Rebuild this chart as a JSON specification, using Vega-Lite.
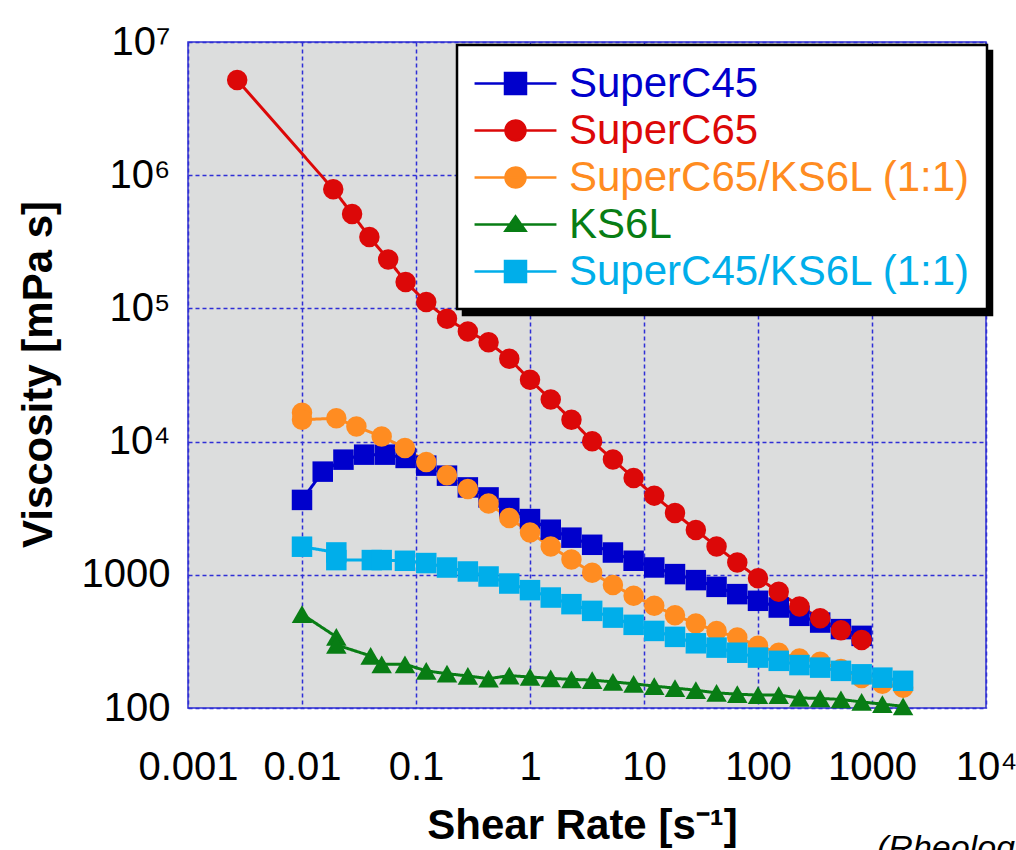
{
  "$schema": "https://vega.github.io/schema/vega-lite/v6.json",
  "width": 798,
  "height": 666,
  "autosize": {"type": "none"},
  "padding": {"left": 188, "top": 42, "right": 30, "bottom": 142},
  "background": "white",
  "title": {
    "text": "(Rheology)",
    "orient": "bottom",
    "anchor": "end",
    "frame": "group",
    "align": "left",
    "baseline": "top",
    "dx": -109,
    "dy": -14,
    "offset": 0,
    "font": "Liberation Sans",
    "fontSize": 34,
    "fontStyle": "italic",
    "fontWeight": "normal",
    "color": "black"
  },
  "config": {
    "view": {"fill": "#dcdddd", "stroke": "#3030d0", "strokeWidth": 1.5},
    "font": "Liberation Sans",
    "legend": {"strokeWidth": 2.5}
  },
  "data": {
    "values": [
      {"series": "SuperC45", "rate": 0.01, "visc": 3650},
      {"series": "SuperC45", "rate": 0.0152, "visc": 5950},
      {"series": "SuperC45", "rate": 0.0231, "visc": 7320},
      {"series": "SuperC45", "rate": 0.0351, "visc": 7980},
      {"series": "SuperC45", "rate": 0.0534, "visc": 7980},
      {"series": "SuperC45", "rate": 0.0811, "visc": 7540},
      {"series": "SuperC45", "rate": 0.123, "visc": 6600},
      {"series": "SuperC45", "rate": 0.187, "visc": 5550},
      {"series": "SuperC45", "rate": 0.285, "visc": 4530},
      {"series": "SuperC45", "rate": 0.433, "visc": 3810},
      {"series": "SuperC45", "rate": 0.658, "visc": 3170},
      {"series": "SuperC45", "rate": 1.0, "visc": 2620},
      {"series": "SuperC45", "rate": 1.52, "visc": 2180},
      {"series": "SuperC45", "rate": 2.31, "visc": 1900},
      {"series": "SuperC45", "rate": 3.51, "visc": 1680},
      {"series": "SuperC45", "rate": 5.34, "visc": 1470},
      {"series": "SuperC45", "rate": 8.11, "visc": 1275},
      {"series": "SuperC45", "rate": 12.3, "visc": 1135},
      {"series": "SuperC45", "rate": 18.7, "visc": 1012},
      {"series": "SuperC45", "rate": 28.5, "visc": 912},
      {"series": "SuperC45", "rate": 43.3, "visc": 812},
      {"series": "SuperC45", "rate": 65.8, "visc": 716},
      {"series": "SuperC45", "rate": 100, "visc": 638},
      {"series": "SuperC45", "rate": 152, "visc": 568},
      {"series": "SuperC45", "rate": 231, "visc": 492},
      {"series": "SuperC45", "rate": 351, "visc": 438},
      {"series": "SuperC45", "rate": 534, "visc": 391},
      {"series": "SuperC45", "rate": 811, "visc": 348},
      {"series": "SuperC65", "rate": 0.0027, "visc": 5180000},
      {"series": "SuperC65", "rate": 0.0188, "visc": 785000},
      {"series": "SuperC65", "rate": 0.0275, "visc": 512000},
      {"series": "SuperC65", "rate": 0.039, "visc": 344000},
      {"series": "SuperC65", "rate": 0.057, "visc": 233000},
      {"series": "SuperC65", "rate": 0.0811, "visc": 158000},
      {"series": "SuperC65", "rate": 0.123, "visc": 111500},
      {"series": "SuperC65", "rate": 0.187, "visc": 83700},
      {"series": "SuperC65", "rate": 0.285, "visc": 67200},
      {"series": "SuperC65", "rate": 0.433, "visc": 55800},
      {"series": "SuperC65", "rate": 0.658, "visc": 41900},
      {"series": "SuperC65", "rate": 1.0, "visc": 29100},
      {"series": "SuperC65", "rate": 1.52, "visc": 20700},
      {"series": "SuperC65", "rate": 2.31, "visc": 14600},
      {"series": "SuperC65", "rate": 3.51, "visc": 10050},
      {"series": "SuperC65", "rate": 5.34, "visc": 7330},
      {"series": "SuperC65", "rate": 8.11, "visc": 5330},
      {"series": "SuperC65", "rate": 12.3, "visc": 3930},
      {"series": "SuperC65", "rate": 18.7, "visc": 2910},
      {"series": "SuperC65", "rate": 28.5, "visc": 2170},
      {"series": "SuperC65", "rate": 43.3, "visc": 1630},
      {"series": "SuperC65", "rate": 65.8, "visc": 1237},
      {"series": "SuperC65", "rate": 100, "visc": 944},
      {"series": "SuperC65", "rate": 152, "visc": 745},
      {"series": "SuperC65", "rate": 231, "visc": 578},
      {"series": "SuperC65", "rate": 351, "visc": 472},
      {"series": "SuperC65", "rate": 534, "visc": 384},
      {"series": "SuperC65", "rate": 811, "visc": 324},
      {"series": "SuperC65/KS6L (1:1)", "rate": 0.01, "visc": 16500},
      {"series": "SuperC65/KS6L (1:1)", "rate": 0.01, "visc": 14600},
      {"series": "SuperC65/KS6L (1:1)", "rate": 0.02, "visc": 14970},
      {"series": "SuperC65/KS6L (1:1)", "rate": 0.03, "visc": 12970},
      {"series": "SuperC65/KS6L (1:1)", "rate": 0.05, "visc": 10900},
      {"series": "SuperC65/KS6L (1:1)", "rate": 0.08, "visc": 8970},
      {"series": "SuperC65/KS6L (1:1)", "rate": 0.123, "visc": 7040},
      {"series": "SuperC65/KS6L (1:1)", "rate": 0.187, "visc": 5580},
      {"series": "SuperC65/KS6L (1:1)", "rate": 0.285, "visc": 4410},
      {"series": "SuperC65/KS6L (1:1)", "rate": 0.433, "visc": 3430},
      {"series": "SuperC65/KS6L (1:1)", "rate": 0.658, "visc": 2670},
      {"series": "SuperC65/KS6L (1:1)", "rate": 1.0, "visc": 2080},
      {"series": "SuperC65/KS6L (1:1)", "rate": 1.52, "visc": 1630},
      {"series": "SuperC65/KS6L (1:1)", "rate": 2.31, "visc": 1300},
      {"series": "SuperC65/KS6L (1:1)", "rate": 3.51, "visc": 1035},
      {"series": "SuperC65/KS6L (1:1)", "rate": 5.34, "visc": 837},
      {"series": "SuperC65/KS6L (1:1)", "rate": 8.11, "visc": 695},
      {"series": "SuperC65/KS6L (1:1)", "rate": 12.3, "visc": 585},
      {"series": "SuperC65/KS6L (1:1)", "rate": 18.7, "visc": 498},
      {"series": "SuperC65/KS6L (1:1)", "rate": 28.5, "visc": 430},
      {"series": "SuperC65/KS6L (1:1)", "rate": 43.3, "visc": 379},
      {"series": "SuperC65/KS6L (1:1)", "rate": 65.8, "visc": 338},
      {"series": "SuperC65/KS6L (1:1)", "rate": 100, "visc": 293},
      {"series": "SuperC65/KS6L (1:1)", "rate": 152, "visc": 260},
      {"series": "SuperC65/KS6L (1:1)", "rate": 231, "visc": 235},
      {"series": "SuperC65/KS6L (1:1)", "rate": 351, "visc": 222},
      {"series": "SuperC65/KS6L (1:1)", "rate": 534, "visc": 196},
      {"series": "SuperC65/KS6L (1:1)", "rate": 811, "visc": 168},
      {"series": "SuperC65/KS6L (1:1)", "rate": 1233, "visc": 152},
      {"series": "SuperC65/KS6L (1:1)", "rate": 1874, "visc": 142},
      {"series": "KS6L", "rate": 0.01, "visc": 506},
      {"series": "KS6L", "rate": 0.02, "visc": 342},
      {"series": "KS6L", "rate": 0.02, "visc": 298},
      {"series": "KS6L", "rate": 0.04, "visc": 246},
      {"series": "KS6L", "rate": 0.05, "visc": 213},
      {"series": "KS6L", "rate": 0.08, "visc": 213},
      {"series": "KS6L", "rate": 0.123, "visc": 190},
      {"series": "KS6L", "rate": 0.187, "visc": 181},
      {"series": "KS6L", "rate": 0.285, "visc": 174},
      {"series": "KS6L", "rate": 0.433, "visc": 166},
      {"series": "KS6L", "rate": 0.658, "visc": 175},
      {"series": "KS6L", "rate": 1.0, "visc": 171},
      {"series": "KS6L", "rate": 1.52, "visc": 167},
      {"series": "KS6L", "rate": 2.31, "visc": 164},
      {"series": "KS6L", "rate": 3.51, "visc": 162},
      {"series": "KS6L", "rate": 5.34, "visc": 157},
      {"series": "KS6L", "rate": 8.11, "visc": 152},
      {"series": "KS6L", "rate": 12.3, "visc": 146},
      {"series": "KS6L", "rate": 18.7, "visc": 141},
      {"series": "KS6L", "rate": 28.5, "visc": 136},
      {"series": "KS6L", "rate": 43.3, "visc": 130},
      {"series": "KS6L", "rate": 65.8, "visc": 127},
      {"series": "KS6L", "rate": 100, "visc": 125},
      {"series": "KS6L", "rate": 152, "visc": 125},
      {"series": "KS6L", "rate": 231, "visc": 119},
      {"series": "KS6L", "rate": 351, "visc": 118},
      {"series": "KS6L", "rate": 534, "visc": 116},
      {"series": "KS6L", "rate": 811, "visc": 111},
      {"series": "KS6L", "rate": 1233, "visc": 107},
      {"series": "KS6L", "rate": 1874, "visc": 103},
      {"series": "SuperC45/KS6L (1:1)", "rate": 0.01, "visc": 1625},
      {"series": "SuperC45/KS6L (1:1)", "rate": 0.02, "visc": 1472},
      {"series": "SuperC45/KS6L (1:1)", "rate": 0.02, "visc": 1289},
      {"series": "SuperC45/KS6L (1:1)", "rate": 0.041, "visc": 1290},
      {"series": "SuperC45/KS6L (1:1)", "rate": 0.05, "visc": 1290},
      {"series": "SuperC45/KS6L (1:1)", "rate": 0.08, "visc": 1274},
      {"series": "SuperC45/KS6L (1:1)", "rate": 0.123, "visc": 1225},
      {"series": "SuperC45/KS6L (1:1)", "rate": 0.187, "visc": 1134},
      {"series": "SuperC45/KS6L (1:1)", "rate": 0.285, "visc": 1059},
      {"series": "SuperC45/KS6L (1:1)", "rate": 0.433, "visc": 971},
      {"series": "SuperC45/KS6L (1:1)", "rate": 0.658, "visc": 860},
      {"series": "SuperC45/KS6L (1:1)", "rate": 1.0, "visc": 767},
      {"series": "SuperC45/KS6L (1:1)", "rate": 1.52, "visc": 675},
      {"series": "SuperC45/KS6L (1:1)", "rate": 2.31, "visc": 602},
      {"series": "SuperC45/KS6L (1:1)", "rate": 3.51, "visc": 536},
      {"series": "SuperC45/KS6L (1:1)", "rate": 5.34, "visc": 477},
      {"series": "SuperC45/KS6L (1:1)", "rate": 8.11, "visc": 421},
      {"series": "SuperC45/KS6L (1:1)", "rate": 12.3, "visc": 379},
      {"series": "SuperC45/KS6L (1:1)", "rate": 18.7, "visc": 342},
      {"series": "SuperC45/KS6L (1:1)", "rate": 28.5, "visc": 306},
      {"series": "SuperC45/KS6L (1:1)", "rate": 43.3, "visc": 284},
      {"series": "SuperC45/KS6L (1:1)", "rate": 65.8, "visc": 260},
      {"series": "SuperC45/KS6L (1:1)", "rate": 100, "visc": 239},
      {"series": "SuperC45/KS6L (1:1)", "rate": 152, "visc": 226},
      {"series": "SuperC45/KS6L (1:1)", "rate": 231, "visc": 210},
      {"series": "SuperC45/KS6L (1:1)", "rate": 351, "visc": 201},
      {"series": "SuperC45/KS6L (1:1)", "rate": 534, "visc": 190},
      {"series": "SuperC45/KS6L (1:1)", "rate": 811, "visc": 179},
      {"series": "SuperC45/KS6L (1:1)", "rate": 1233, "visc": 169},
      {"series": "SuperC45/KS6L (1:1)", "rate": 1874, "visc": 160}
    ]
  },
  "transform": [{"calculate": "datum.series", "as": "key2"}],
  "encoding": {
    "x": {
      "field": "rate",
      "type": "quantitative",
      "scale": {"type": "log", "domain": [0.001, 10000], "nice": false},
      "axis": {
        "title": "Shear Rate [s⁻¹]",
        "values": [0.001, 0.01, 0.1, 1, 10, 100, 1000, 10000],
        "labelExpr": "datum.value < 0.005 ? '0.001' : datum.value < 0.05 ? '0.01' : datum.value < 0.5 ? '0.1' : datum.value < 5 ? '1' : datum.value < 50 ? '10' : datum.value < 500 ? '100' : datum.value < 5000 ? '1000' : '10⁴'",
        "grid": true,
        "gridColor": "#2f2fd6",
        "gridDash": [4, 3],
        "gridWidth": 1.5,
        "ticks": false,
        "domain": false,
        "labelFont": "Liberation Sans",
        "labelFontSize": 40,
        "labelColor": "black",
        "labelPadding": 71,
        "labelBaseline": "alphabetic",
        "labelFlush": false,
        "labelOverlap": false,
        "labelBound": false,
        "titleFont": "Liberation Sans",
        "titleFontSize": 42,
        "titleFontWeight": "bold",
        "titleColor": "black",
        "titleX": 394,
        "titleY": 117,
        "titleAlign": "center",
        "titleBaseline": "middle"
      }
    },
    "y": {
      "field": "visc",
      "type": "quantitative",
      "scale": {"type": "log", "domain": [100, 10000000], "nice": false},
      "axis": {
        "title": "Viscosity [mPa s]",
        "values": [100, 1000, 10000, 100000, 1000000, 10000000],
        "labelExpr": "datum.value < 500 ? '100' : datum.value < 5000 ? '1000' : datum.value < 50000 ? '10⁴' : datum.value < 500000 ? '10⁵' : datum.value < 5000000 ? '10⁶' : '10⁷'",
        "grid": true,
        "gridColor": "#2f2fd6",
        "gridDash": [4, 3],
        "gridWidth": 1.5,
        "ticks": false,
        "domain": false,
        "labelFont": "Liberation Sans",
        "labelFontSize": 40,
        "labelColor": "black",
        "labelPadding": 18,
        "labelBaseline": "middle",
        "labelFlush": false,
        "labelOverlap": false,
        "labelBound": false,
        "titleFont": "Liberation Sans",
        "titleFontSize": 42,
        "titleFontWeight": "bold",
        "titleColor": "black",
        "titleAngle": 270,
        "titleX": -150,
        "titleY": 332,
        "titleAlign": "center",
        "titleBaseline": "middle"
      }
    },
    "color": {
      "field": "series",
      "type": "nominal",
      "scale": {
        "domain": ["SuperC45", "SuperC65", "SuperC65/KS6L (1:1)", "KS6L", "SuperC45/KS6L (1:1)"],
        "range": ["#0000cc", "#dc0808", "#ff8c21", "#087d14", "#00aeea"]
      },
      "legend": {
        "title": null,
        "orient": "none",
        "legendX": 269,
        "legendY": 3,
        "zindex": 3,
        "fillColor": "white",
        "strokeColor": "black",
        "padding": 16,
        "cornerRadius": 0,
        "labelFont": "Liberation Sans",
        "labelFontSize": 42,
        "symbolOffset": 20,
        "labelOffset": 31,
        "labelLimit": 0,
        "rowPadding": 3,
        "symbolSize": 1764,
        "symbolStrokeWidth": 2.5,
        "labelColor": {"expr": "scale('color', datum.value)"},
        "symbolType": {"expr": "datum.value === 'KS6L' ? 'M-1.95,0H1.95M0,-0.38L0.476,0.3H-0.476Z' : (datum.value === 'SuperC65' || datum.value === 'SuperC65/KS6L (1:1)') ? 'M-1.95,0H1.95M0.476,0A0.476,0.476,0,1,1,-0.476,0A0.476,0.476,0,1,1,0.476,0Z' : 'M-1.95,0H1.95M-0.5,-0.5H0.5V0.5H-0.5Z'"}
      }
    }
  },
  "layer": [
    {
      "mark": {"type": "line", "strokeWidth": 3},
      "encoding": {
        "strokeDash": {
          "field": "key2",
          "type": "nominal",
          "scale": {"range": [[1, 0]]},
          "legend": {
            "title": null,
            "orient": "none",
            "legendX": 275,
            "legendY": 9,
            "zindex": 2,
            "fillColor": "black",
            "strokeColor": "black",
            "padding": 16,
            "cornerRadius": 0,
            "labelFont": "Liberation Sans",
            "labelFontSize": 42,
            "labelExpr": "'                                  '",
            "symbolOffset": 20,
            "labelOffset": 432,
            "labelLimit": 0,
            "rowPadding": 3,
            "symbolSize": 1764,
            "symbolStrokeWidth": 2.5,
            "symbolStrokeColor": "black",
            "symbolFillColor": "black",
            "labelColor": "black"
          }
        }
      }
    },
    {
      "mark": {"type": "point", "filled": true, "opacity": 1, "size": 420},
      "encoding": {
        "shape": {
          "field": "key2",
          "type": "nominal",
          "scale": {"range": ["triangle-up", "square", "square", "circle", "circle"]},
          "legend": null
        }
      }
    }
  ]
}
